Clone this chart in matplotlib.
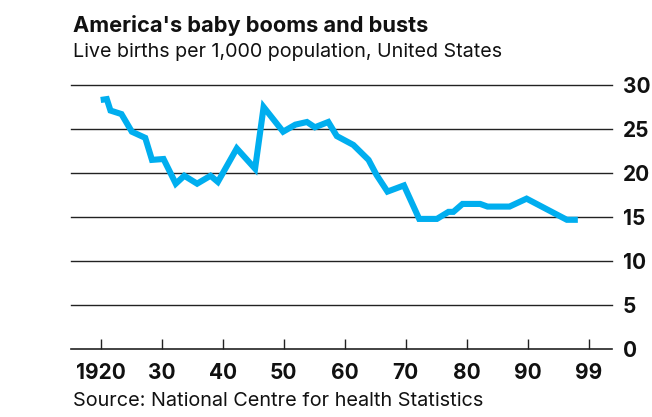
import matplotlib
matplotlib.use("Agg")
import matplotlib.pyplot as plt

# ---- data ----
years = [1920, 1921, 1921.6, 1923.4, 1925.1, 1927.3, 1928.4, 1930.3, 1932.3, 1933.7,
         1935.8, 1938, 1939.2, 1942.3, 1945.3, 1946.7, 1949.9, 1951.9, 1953.8, 1955.1,
         1957.3, 1958.7, 1961.4, 1963.9, 1965.2, 1967, 1969.7, 1972.2, 1975.1, 1977,
         1977.8, 1979.3, 1982.2, 1983.4, 1987, 1989.8, 1996.4, 1998.2]
birth_rate = [28.3, 28.4, 27.1, 26.7, 24.7, 24.0, 21.5, 21.6, 18.8, 19.7,
              18.8, 19.7, 19.0, 22.8, 20.5, 27.5, 24.7, 25.5, 25.8, 25.2,
              25.8, 24.2, 23.2, 21.5, 19.8, 17.9, 18.6, 14.8, 14.8, 15.6,
              15.6, 16.5, 16.5, 16.2, 16.2, 17.1, 14.7, 14.7]
xtick_pos = [1920, 1930, 1940, 1950, 1960, 1970, 1980, 1990, 2000]
xtick_labels = ["1920", "30", "40", "50", "60", "70", "80", "90", "99"]
ytick_pos = [0, 5, 10, 15, 20, 25, 30]

title = "America's baby booms and busts"
subtitle = "Live births per 1,000 population, United States"
source = "Source: National Centre for health Statistics"

FONT = ["Inter", "DejaVu Sans"]
plt.rcParams["font.family"] = FONT
TXT = "#111111"

W, H = 652, 417
fig = plt.figure(figsize=(W / 100, H / 100), dpi=100)
ax = fig.add_axes([71 / W, (H - 349.3) / H, (612 - 71) / W, (349.3 - 85) / H])

ax.plot(years, birth_rate, color="#00AEEF", lw=4.4, solid_joinstyle="miter",
        solid_capstyle="butt", zorder=3)

ax.set_xlim(1915.13, 2003.8)
ax.set_ylim(0, 30)

for y in ytick_pos[1:]:
    ax.axhline(y, color="#222222", lw=1.0, zorder=1, clip_on=False)

for s in ["top", "left", "right"]:
    ax.spines[s].set_visible(False)
ax.spines["bottom"].set_color("#222222")
ax.spines["bottom"].set_linewidth(1.2)

ax.set_xticks(xtick_pos)
ax.set_xticklabels(xtick_labels)
ax.tick_params(axis="x", direction="in", length=7, width=1, color="#222222",
               pad=10, labelsize=15, labelcolor=TXT)
for lab in ax.get_xticklabels():
    lab.set_fontweight("bold")

ax.yaxis.tick_right()
ax.set_yticks(ytick_pos)
ax.tick_params(axis="y", length=0, pad=8, labelsize=15, labelcolor=TXT)
for lab in ax.get_yticklabels():
    lab.set_fontweight("bold")

fig.text(73 / W, 1 - 32 / H, title, fontsize=15.7, fontweight="bold", color=TXT,
         ha="left", va="baseline")
fig.text(73 / W, 1 - 57 / H, subtitle, fontsize=14.2, color=TXT, ha="left", va="baseline")
fig.text(73 / W, 1 - 406 / H, source, fontsize=14.3, color=TXT, ha="left", va="baseline")

fig.savefig("out.png", dpi=100)
